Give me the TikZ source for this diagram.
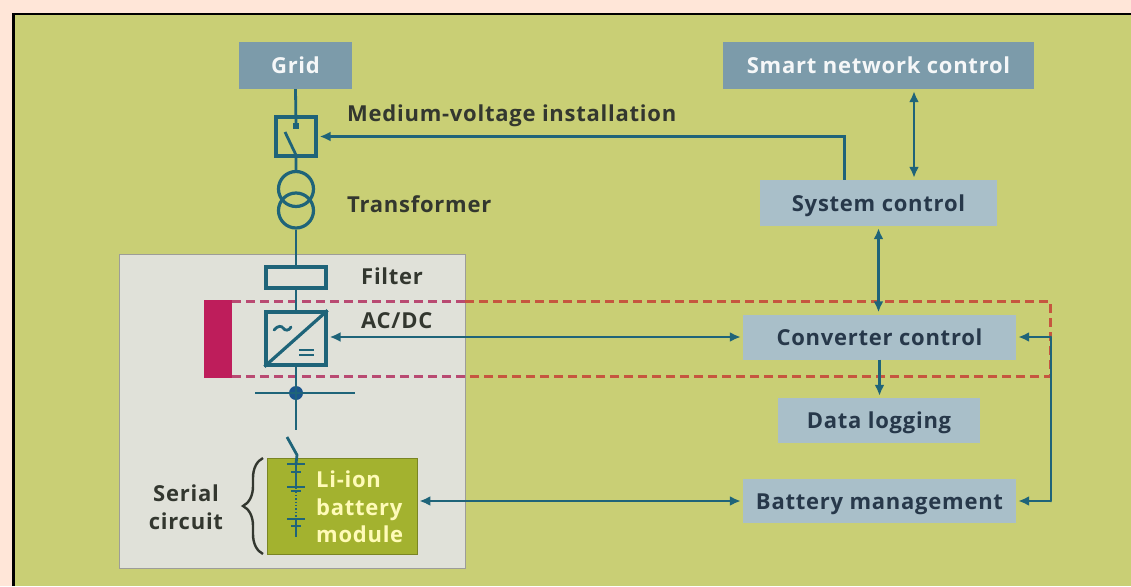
\documentclass[tikz,border=0pt]{standalone}
\usepackage{fontspec}
\setmainfont{Open Sans}[LetterSpace=3.4]
\usetikzlibrary{arrows.meta,decorations.pathreplacing}
\definecolor{peach}{HTML}{FFE6D8}
\definecolor{field}{HTML}{C9CF75}
\definecolor{panel}{HTML}{E0E1D9}
\definecolor{lightbox}{HTML}{A9BFC9}
\definecolor{darkbox}{HTML}{7C9BAA}
\definecolor{modgreen}{HTML}{A3B22F}
\definecolor{wire}{HTML}{1F6479}
\definecolor{txt}{HTML}{33372F}
\definecolor{boxtxt}{HTML}{27384A}
\definecolor{magbar}{HTML}{BE1D5B}
\definecolor{dashA}{HTML}{B94A72}
\definecolor{dashB}{HTML}{C6563F}
\tikzset{
  x=1pt,y=-1pt,
  lbl/.style={font=\fontsize{22}{27.5}\selectfont\bfseries,text=txt,inner sep=0pt},
  boxbase/.style={inner sep=0pt,font=\fontsize{22}{26}\selectfont\bfseries,text height=16.5pt,text depth=0pt},
  lightnode/.style={boxbase,fill=lightbox,text=boxtxt},
  darknode/.style={boxbase,fill=darkbox,text=white!92!darkbox},
  wireline/.style={draw=wire,line width=2.8pt},
  sym/.style={draw=wire,line width=3.2pt,inner sep=0pt},
  link/.style={wire,line width=2.6pt,-{Latex[length=11pt,width=10pt]},shorten >=2pt},
  dlink/.style={wire,line width=2.6pt,{Latex[length=11pt,width=10pt]}-{Latex[length=11pt,width=10pt]},shorten >=2pt,shorten <=2pt},
  dashline/.style={line width=2.6pt,dash pattern=on 9pt off 5pt},
}
\begin{document}
\begin{tikzpicture}
\useasboundingbox (0,0) rectangle (1131,586);
\fill[peach] (0,0) rectangle (1131,586);
\fill[field] (14,14) rectangle (1131,586);
\draw[black,line width=2.5pt] (13.5,586) -- (13.5,14) -- (1131,14);
% panel
\node[fill=panel,inner sep=0pt,minimum width=346pt,minimum height=314pt,draw=black!30!panel,line width=.8pt] (panelbox) at (292,411) {};
% boxes
\node[darknode,minimum width=113pt,minimum height=47pt] (grid) at (295.5,65.5) {Grid};
\node[darknode,minimum width=311pt,minimum height=47pt] (smart) at (878.5,65.5) {Smart network control};
\node[lightnode,minimum width=237pt,minimum height=46pt] (sys) at (878.5,203) {System control};
\node[lightnode,minimum width=273pt,minimum height=45pt] (conv) at (879.5,337) {Converter control};
\node[lightnode,minimum width=202pt,minimum height=45pt] (data) at (879,420.5) {Data logging};
\node[lightnode,minimum width=273pt,minimum height=44pt] (bms) at (879.5,501) {Battery management};
% magenta bar and dashed outline
\node[fill=magbar,inner sep=0pt,minimum width=28pt,minimum height=78pt] (bar) at (218,339) {};
\coordinate (dtl) at (232,301.5);
\coordinate (dbl) at (232,376.5);
\coordinate (dtm) at (465,301.5);
\coordinate (dbm) at (465,376.5);
\coordinate (dtr) at (1050.5,301.5);
\coordinate (dbr) at (1050.5,376.5);
\draw[dashline,dashA] (dtl) -- (dtm);
\draw[dashline,dashA] (dbl) -- (dbm);
\draw[dashline,dashB] (dtm) -- (dtr) -- (dbr) -- (dbm);
% symbols
\node[sym,minimum width=40pt,minimum height=39pt] (sw) at (296,136.5) {};
\node[sym,circle,minimum size=35pt] (t1) at (296,189) {};
\node[sym,circle,minimum size=35pt] (t2) at (296,210.5) {};
\node[sym,minimum width=60pt,minimum height=21pt] (filter) at (296,277.5) {};
\node[sym,minimum width=60pt,minimum height=53pt] (acdc) at (296,338.5) {};
\node[fill=modgreen,draw=black!25!modgreen,line width=.8pt,inner sep=0pt,minimum width=150pt,minimum height=96pt] (module) at (342,506) {};
\node[circle,fill=wire!85!blue,inner sep=0pt,minimum size=14pt] (dot) at (296,393) {};
\node[fill=wire,inner sep=0pt,minimum size=6pt] (swdot) at (296,126) {};
\coordinate (busL) at (255,393);
\coordinate (busR) at (355,393);
\coordinate (open) at (296,430);
\coordinate (bladeA) at (287,437);
\coordinate (bladeB) at (297,455);
\coordinate (cellTop) at (296,464);
\coordinate (cellBot) at (296,537);
% wiring
\draw[wireline] (grid.south) -- (swdot.center);
\draw[wireline] (285,132) -- (296,155) -- (t1.north);
\draw[wireline] (t2.south) -- (filter.north);
\draw[wireline] (filter.south) -- (acdc.north);
\draw[wireline] (acdc.south) -- (dot.center) -- (open);
\draw[wireline] (busL) -- (busR);
\draw[wireline] (bladeA) -- (bladeB) -- (cellTop);
% AC/DC inner marks
\draw[sym] (acdc.south west) -- (acdc.north east);
\draw[wireline,line cap=round] (274,330) .. controls (278,325) and (282,326) .. (283,328) .. controls (285,331) and (289,331) .. (291,327);
\draw[wireline] (299,350) -- (314,350);
\draw[wireline] (299,355) -- (314,355);
% battery cells
\draw[wireline] (cellTop) -- (296,488);
\draw[wire,line width=1.4pt,dotted] (296,488) -- (296,519);
\draw[wireline] (296,519) -- (cellBot);
\draw[wireline] (287,464) -- (305,464);
\draw[wireline] (291,472) -- (301,472);
\draw[wireline] (287,487) -- (305,487);
\draw[wireline] (291,491) -- (301,491);
\draw[wireline] (287,519) -- (305,519);
\draw[wireline] (291,526) -- (301,526);
% brace
\draw[txt,line width=2.4pt,decorate,decoration={brace,amplitude=20pt,aspect=.5,mirror}] (263,458) -- (263,554);
% connectors
\coordinate (ctl) at (844.5,136.5);
\draw[link] (ctl |- sys.north) -- (ctl) -- (sw.east);
\draw[dlink] ([xshift=35.5pt]smart.south) -- ([xshift=35.5pt]sys.north);
\draw[dlink] (sys.south) -- (sys.south |- conv.north);
\draw[link] (conv.south) -- (conv.south |- data.north);
\draw[dlink] (acdc.east |- conv.west) -- (conv.west);
\draw[dlink] (module.east |- bms.west) -- (bms.west);
\coordinate (rail) at (1051,337);
\draw[link] (rail) -- (conv.east);
\draw[wireline,line cap=round] (rail) -- (rail |- bms.east);
\draw[link] (rail |- bms.east) -- (bms.east);
% labels
\node[lbl,anchor=base west] (lmv) at (347,121) {Medium-voltage installation};
\node[lbl,anchor=base west] (ltr) at (347,212) {Transformer};
\node[lbl,anchor=base west] (lfi) at (361,284) {Filter};
\node[lbl,anchor=base west] (lac) at (361,328) {AC/DC};
\node[lbl,align=center] (lser) at (186,507) {Serial\\circuit};
\node[lbl,anchor=west,text=white!72!yellow,align=left] (lbat) at (316,507) {Li-ion\\battery\\module};
\end{tikzpicture}
\end{document}
